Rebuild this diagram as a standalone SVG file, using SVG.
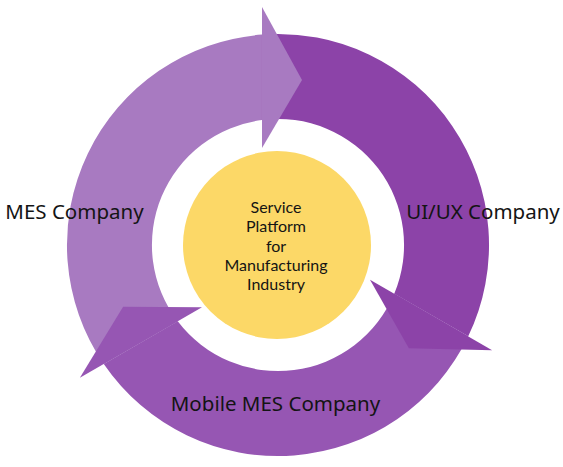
<svg xmlns="http://www.w3.org/2000/svg" width="563" height="467" viewBox="0 0 563 467">
<defs>
<style>
text{font-family:"Noto Sans","Open Sans","DejaVu Sans",sans-serif;fill:#141414}
.lbl{font-size:20.5px;text-anchor:middle}
.ctr{font-family:Lato,"Noto Sans",sans-serif;font-size:16px;text-anchor:middle}
.light{fill:#A87AC1}
.medium{fill:#9656B3}
.dark{fill:#8C43A8}
</style>
<path id="body" d="M103.8,364.1 A211,211 0 0 1 262,34.6 L262,120 A126,126 0 0 0 177.75,321.4 Z"/>
<path id="head" d="M262,7 L302,80 L262,148 Z"/>
</defs>
<rect width="563" height="467" fill="#fff"/>
<g id="connectors">
<use href="#body" class="light"/>
<use href="#body" class="dark" transform="rotate(120 278 245)"/>
<use href="#body" class="medium" transform="rotate(240 278 245)"/>
<use href="#head" class="light"/>
<use href="#head" class="dark" transform="rotate(120 278 245)"/>
<use href="#head" class="medium" transform="rotate(240 278 245)"/>
</g>
<g id="center">
<circle cx="277" cy="245" r="94" fill="#FCD867"/>
<text class="ctr" x="276" y="213">Service</text>
<text class="ctr" x="276" y="232">Platform</text>
<text class="ctr" x="276" y="251.5">for</text>
<text class="ctr" x="276" y="270.5">Manufacturing</text>
<text class="ctr" x="276" y="290">Industry</text>
</g>
<g id="mes"><text class="lbl" x="74.5" y="218.5">MES Company</text></g>
<g id="uiux"><text class="lbl" x="483" y="218.5">UI/UX Company</text></g>
<g id="mobile"><text class="lbl" x="275.5" y="411">Mobile MES Company</text></g>
</svg>
